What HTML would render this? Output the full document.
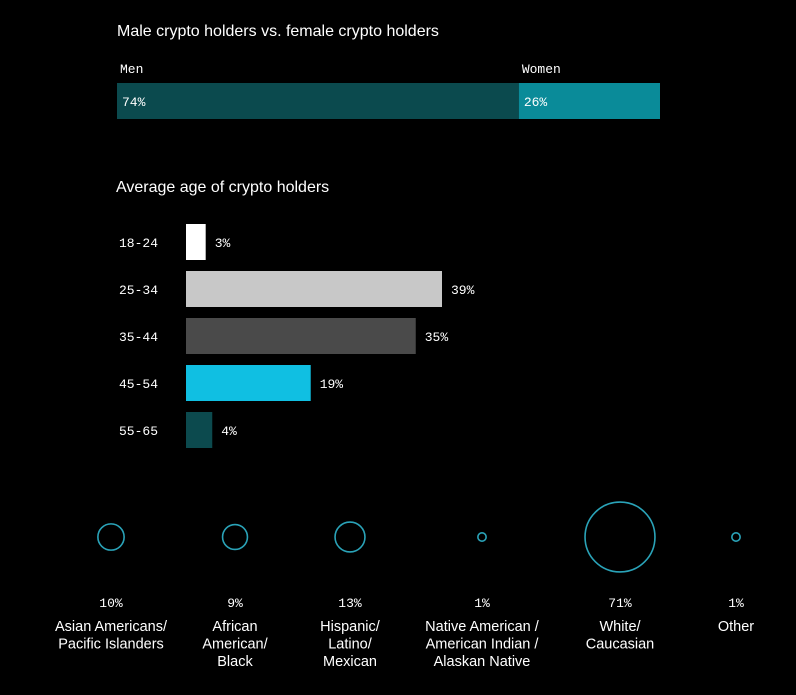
<!DOCTYPE html>
<html><head><meta charset="utf-8">
<style>
body{margin:0;background:#000;width:796px;height:690px;overflow:hidden}
svg text{font-family:"Liberation Sans",sans-serif}
.mono{font-family:"Liberation Mono",monospace;font-size:13px;fill:#fff}
</style></head><body>
<svg id="c" width="796" height="690">
<text x="117" y="36" fill="#fff" font-size="16">Male crypto holders vs. female crypto holders</text>
<text x="116" y="192" fill="#fff" font-size="16">Average age of crypto holders</text>
</svg>
<script>
const genderLabels=["Men","Women"];
const genderValues=[74,26];
const ageLabels=["18-24","25-34","35-44","45-54","55-65"];
const ageValues=[3,39,35,19,4];
const ageColors=["#ffffff","#c8c8c8","#4a4a4a","#10bfe2","#0c4a4e"];
const ethLabels=[["Asian Americans/","Pacific Islanders"],["African","American/","Black"],["Hispanic/","Latino/","Mexican"],["Native American /","American Indian /","Alaskan Native"],["White/","Caucasian"],["Other"]];
const ethValues=[10,9,13,1,71,1];

const svg=document.getElementById('c');
const NS="http://www.w3.org/2000/svg";
function mk(t,a,txt){const e=document.createElementNS(NS,t);for(const k in a)e.setAttribute(k,a[k]);if(txt!==undefined)e.textContent=txt;svg.appendChild(e);return e;}

// gender bar
const gx0=117,gW=543,total=genderValues.reduce((a,b)=>a+b,0);
const gColors=["#0b4a4e","#0a8b99"];
let gx=gx0;
genderValues.forEach((v,i)=>{
  const w=v/total*gW;
  const r=mk('rect',{x:gx,y:83,width:w,height:36,fill:gColors[i]});
  
  
  const l=mk('text',{x:gx+3,y:73,class:'mono'},genderLabels[i]);
  
  
  const p=mk('text',{x:gx+5,y:106,class:'mono'},v+'%');
  
  
  gx+=w;
});

// age bars
const ax0=186,scale=256/39;
ageValues.forEach((v,i)=>{
  const y=224+i*47;
  const w=v*scale;
  const r=mk('rect',{x:ax0,y:y,width:w,height:36,fill:ageColors[i]});
  
  
  const l=mk('text',{x:119,y:y+23,class:'mono'},ageLabels[i]);
  
  
  const p=mk('text',{x:ax0+w+9,y:y+23,class:'mono'},v+'%');
  
  
});

// ethnicity bubbles
const cxs=[111,235,350,482,620,736];
ethValues.forEach((v,i)=>{
  const r=4.15*Math.sqrt(v);
  const c=mk('circle',{cx:cxs[i],cy:537,r:r,fill:'none',stroke:'#2aa3b8','stroke-width':1.6});
  
  
  const p=mk('text',{x:cxs[i],y:607,class:'mono','text-anchor':'middle'},v+'%');
  
  
  ethLabels[i].forEach((ln,j)=>{
    const t=mk('text',{x:cxs[i],y:631+j*17.5,fill:'#fff','font-size':14.5,'text-anchor':'middle'},ln);
    
    
  });
});
</script>
</body></html>
